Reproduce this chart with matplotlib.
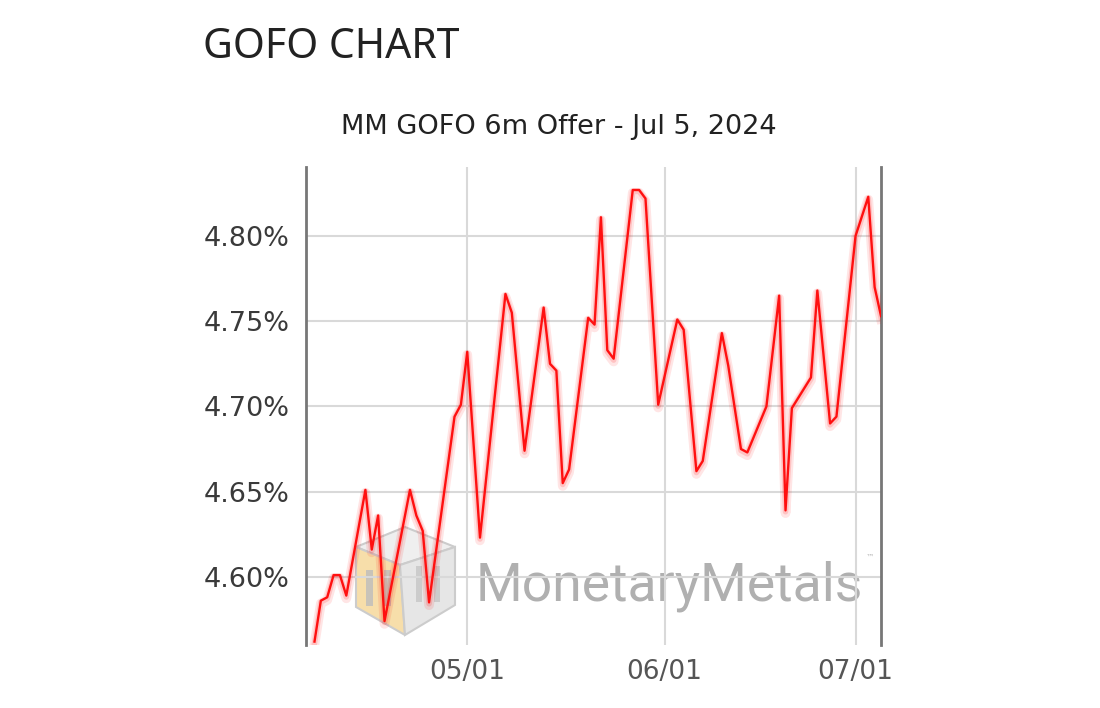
import matplotlib
matplotlib.use("Agg")
import matplotlib.pyplot as plt
import matplotlib.dates as mdates
import matplotlib.patheffects as pe
from matplotlib.patches import Polygon, Rectangle
from matplotlib.ticker import FuncFormatter
import pandas as pd

# MM GOFO 6m offer (percent)
dates = [
    "2024-04-07", "2024-04-08", "2024-04-09", "2024-04-10", "2024-04-11", "2024-04-12",
    "2024-04-15", "2024-04-16", "2024-04-17", "2024-04-18", "2024-04-22", "2024-04-23",
    "2024-04-24", "2024-04-25", "2024-04-29", "2024-04-30", "2024-05-01", "2024-05-03",
    "2024-05-07", "2024-05-08", "2024-05-10", "2024-05-13", "2024-05-14", "2024-05-15",
    "2024-05-16", "2024-05-17", "2024-05-20", "2024-05-21", "2024-05-22", "2024-05-23",
    "2024-05-24", "2024-05-27", "2024-05-28", "2024-05-29", "2024-05-31", "2024-06-03",
    "2024-06-04", "2024-06-06", "2024-06-07", "2024-06-10", "2024-06-11", "2024-06-13",
    "2024-06-14", "2024-06-17", "2024-06-19", "2024-06-20", "2024-06-21", "2024-06-24",
    "2024-06-25", "2024-06-27", "2024-06-28", "2024-07-01", "2024-07-03", "2024-07-04",
    "2024-07-05",
]
gofo = [
    4.562, 4.586, 4.588, 4.601, 4.601, 4.589,
    4.651, 4.616, 4.636, 4.574, 4.651, 4.636,
    4.627, 4.585, 4.694, 4.701, 4.732, 4.623,
    4.766, 4.755, 4.674, 4.758, 4.725, 4.721,
    4.655, 4.663, 4.752, 4.748, 4.811, 4.733,
    4.728, 4.827, 4.827, 4.822, 4.701, 4.751,
    4.745, 4.662, 4.668, 4.743, 4.724, 4.675,
    4.673, 4.700, 4.765, 4.639, 4.699, 4.717,
    4.768, 4.690, 4.694, 4.800, 4.823, 4.770,
    4.753,
]
y_ticks = [4.60, 4.65, 4.70, 4.75, 4.80]
x_ticks = ["2024-05-01", "2024-06-01", "2024-07-01"]

W, H = 1100, 708
fig = plt.figure(figsize=(W / 100, H / 100), dpi=100)

# background layer in pixel coords for the watermark
bg = fig.add_axes([0, 0, 1, 1], zorder=0)
bg.set_xlim(0, W)
bg.set_ylim(H, 0)
bg.axis("off")

# cube logo (rough)
top, ur, lr, bot, ll, ul, ctr = (405, 527), (455, 547), (455, 605), (405, 635), (356, 607), (356, 547), (400, 565)
bg.add_patch(Polygon([ul, top, ur, ctr], closed=True, fc="#efefef", ec="#cccccc", lw=1.5))
bg.add_patch(Polygon([ul, ctr, bot, ll], closed=True, fc="#f7deaa", ec="#cccccc", lw=1.5))
bg.add_patch(Polygon([ctr, ur, lr, bot], closed=True, fc="#e6e6e6", ec="#cccccc", lw=1.5))
for bx in [366, 384]:
    bg.add_patch(Rectangle((bx, 570), 7, 36, fc="#bdbdbd", ec="none", alpha=0.8))
for bx in [416, 434]:
    bg.add_patch(Rectangle((bx, 566), 6, 36, fc="#c6c6c6", ec="none", alpha=0.8))
bg.text(476, 601, "MonetaryMetals", fontsize=38.5, family="Roboto", color="#a2a2a2",
        alpha=0.85, ha="left", va="baseline")
bg.text(866, 560, "™", fontsize=6, color="#b5b5b5", ha="left", va="baseline")

ax = fig.add_axes([306 / W, 1 - 645 / H, 575 / W, 478 / H], zorder=1)
ax.set_facecolor("none")

x = pd.to_datetime(dates)
ax.plot(x, gofo, color="#ff1010", lw=1.7, zorder=3,
        path_effects=[pe.SimpleLineShadow(offset=(0, -2), shadow_color="#ff0000", alpha=0.10, linewidth=7),
                      pe.SimpleLineShadow(offset=(0, -1), shadow_color="#ff0000", alpha=0.15, linewidth=4),
                      pe.Normal()])

ax.set_xlim(pd.Timestamp("2024-04-05 16:00"), pd.Timestamp("2024-07-05"))
ax.set_ylim(4.560, 4.8405)

ax.set_yticks(y_ticks)
ax.yaxis.set_major_formatter(FuncFormatter(lambda v, p: f"{v:.2f}%"))
ax.set_xticks(pd.to_datetime(x_ticks))
ax.xaxis.set_major_formatter(mdates.DateFormatter("%m/%d"))

ax.grid(True, color="#d9d9d9", lw=1.5, zorder=0)
ax.set_axisbelow(True)
ax.tick_params(axis="both", length=0)
ax.tick_params(axis="y", pad=12, labelsize=19.5, labelcolor="#3a3a3a")
ax.tick_params(axis="x", pad=10, labelsize=19, labelcolor="#555555")

for s in ["top", "bottom"]:
    ax.spines[s].set_visible(False)
for s in ["left", "right"]:
    ax.spines[s].set_color("#777777")
    ax.spines[s].set_linewidth(2)

fig.text(203 / W, 1 - 47 / H, "GOFO CHART", fontsize=29.5, family="Noto Sans",
         color="#222222", ha="left", va="center")
fig.text(559 / W, 1 - 127 / H, "MM GOFO 6m Offer - Jul 5, 2024", fontsize=19.5,
         color="#222222", ha="center", va="center")

fig.savefig("out.png", dpi=100)
